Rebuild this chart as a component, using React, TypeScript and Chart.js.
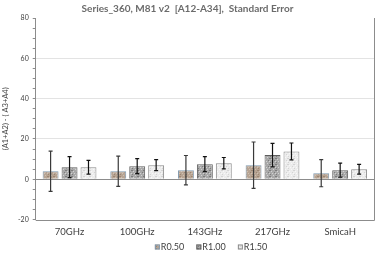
import React, { useEffect, useRef } from "react";
import { Chart, registerables } from "chart.js";

Chart.register(...registerables);

const categories = ["70GHz", "100GHz", "143GHz", "217GHz", "SmicaH"];
const seriesNames = ["R0.50", "R1.00", "R1.50"];
const r050 = [4.0, 4.0, 4.5, 7.0, 3.0];
const r100 = [6.0, 6.5, 7.5, 12.0, 4.5];
const r150 = [6.0, 7.0, 8.0, 13.8, 5.0];
const e050 = [10.0, 7.5, 7.3, 11.5, 6.7];
const e100 = [5.2, 3.7, 3.7, 5.8, 3.5];
const e150 = [3.4, 2.7, 2.8, 4.2, 2.4];
const yTicksMajor = [-20, 0, 20, 40, 60, 80];

const FONT = "Lato, 'Liberation Sans', sans-serif";

function makePattern(base: string, spots: string[]): CanvasPattern | string {
  const c = document.createElement("canvas");
  c.width = 6;
  c.height = 6;
  const ctx = c.getContext("2d");
  if (!ctx) return base;
  ctx.fillStyle = base;
  ctx.fillRect(0, 0, 6, 6);
  const pts = [
    [0, 0], [3, 1], [5, 2], [1, 3], [4, 4], [2, 5], [0, 2], [5, 5],
  ];
  pts.forEach((p, i) => {
    ctx.fillStyle = spots[i % spots.length];
    ctx.fillRect(p[0], p[1], 1, 1);
  });
  const pat = ctx.createPattern(c, "repeat");
  return pat || base;
}

export default function App() {
  const ref = useRef<HTMLCanvasElement>(null);
  useEffect(() => {
    document.body.style.margin = "0";
    if (!ref.current) return;
    const errs = [e050, e100, e150];
    const p1 = makePattern("#b7a493", ["#9c8672", "#cfc0b2"]);
    const p2 = makePattern("#a8a8a8", ["#7c7c7c", "#d2d2d2"]);
    const p3 = makePattern("#ececec", ["#d4d4d4", "#f8f8f8"]);
    const errPlugin = {
      id: "errbars",
      afterDatasetsDraw(chart: any) {
        const ctx = chart.ctx;
        const y = chart.scales.y;
        chart.data.datasets.forEach((ds: any, di: number) => {
          const meta = chart.getDatasetMeta(di);
          meta.data.forEach((bar: any, i: number) => {
            const v = ds.data[i];
            const e = errs[di][i];
            const yt = y.getPixelForValue(v + e);
            const yb = y.getPixelForValue(v - e);
            ctx.save();
            ctx.strokeStyle = di === 0 ? "#3a3a3a" : "#111";
            ctx.lineWidth = 1.2;
            ctx.beginPath();
            ctx.moveTo(bar.x, yt);
            ctx.lineTo(bar.x, yb);
            ctx.moveTo(bar.x - 2, yt);
            ctx.lineTo(bar.x + 2, yt);
            ctx.moveTo(bar.x - 2, yb);
            ctx.lineTo(bar.x + 2, yb);
            ctx.stroke();
            ctx.restore();
          });
        });
        const a = chart.chartArea;
        ctx.save();
        ctx.strokeStyle = "#8c8c8c";
        ctx.lineWidth = 1;
        ctx.beginPath();
        ctx.moveTo(a.left, Math.round(a.bottom) + 0.5);
        ctx.lineTo(Math.round(a.right) + 0.5, Math.round(a.bottom) + 0.5);
        ctx.lineTo(Math.round(a.right) + 0.5, a.top);
        ctx.stroke();
        ctx.restore();
      },
      afterDraw(chart: any) {
        const ctx = chart.ctx;
        const a = chart.chartArea;
        const ly = chart.height - 8;
        let x = (a.left + a.right) / 2 - 50;
        ctx.save();
        ctx.font = "9px " + FONT;
        ctx.textBaseline = "middle";
        ctx.textAlign = "left";
        chart.data.datasets.forEach((ds: any) => {
          ctx.fillStyle = ds.backgroundColor;
          ctx.fillRect(x, ly - 2.5, 5, 5);
          ctx.strokeStyle = ds.borderColor;
          ctx.lineWidth = 1;
          ctx.strokeRect(x + 0.5, ly - 2, 4, 4);
          ctx.fillStyle = "#404040";
          ctx.fillText(ds.label, x + 6, ly);
          x += 41.5;
        });
        ctx.restore();
      },
    };
    const chart = new Chart(ref.current, {
      type: "bar",
      data: {
        labels: categories,
        datasets: [
          { label: seriesNames[0], data: r050, backgroundColor: p1 as any, borderColor: "#7f98ae", borderWidth: 1 },
          { label: seriesNames[1], data: r100, backgroundColor: p2 as any, borderColor: "#5e5e5e", borderWidth: 1 },
          { label: seriesNames[2], data: r150, backgroundColor: p3 as any, borderColor: "#8a8a8a", borderWidth: 1 },
        ],
      },
      options: {
        animation: false,
        responsive: false,
        maintainAspectRatio: false,
        layout: { padding: { left: 1, right: 8, top: 0, bottom: 10 } },
        datasets: { bar: { categoryPercentage: 0.84, barPercentage: 0.84 } },
        plugins: {
          title: {
            display: true,
            text: "Series_360, M81 v2  [A12-A34],  Standard Error",
            color: "#6b6b6b",
            font: { family: FONT, size: 10, weight: "bold" },
            padding: { top: 3, bottom: 3 },
          },
          legend: { display: false },
          tooltip: { enabled: false },
        },
        scales: {
          x: {
            grid: { display: false, drawTicks: false, tickLength: 0 },
            border: { display: false },
            ticks: {
              color: "#404040",
              padding: 7,
              font: { family: FONT, size: 9.5 },
            },
          },
          y: {
            min: -20,
            max: 80,
            title: {
              display: true,
              text: "(A1+A2) - ( A3+A4)",
              color: "#404040",
              font: { family: FONT, size: 7.5 },
              padding: { top: 0, bottom: 4 },
            },
            border: { display: true, color: "#8c8c8c" },
            grid: {
              color: (c: any) => {
                const v = c.tick ? c.tick.value : null;
                if (v === 0) return "#8c8c8c";
                if (v !== null && yTicksMajor.includes(v) && v !== 80 && v !== -20) return "#e3e3e3";
                return "rgba(0,0,0,0)";
              },
              tickColor: "#8c8c8c",
              tickLength: 3,
              drawTicks: true,
            },
            ticks: {
              stepSize: 5,
              autoSkip: false,
              color: "#404040",
              padding: 4,
              font: { family: FONT, size: 7 },
              callback: (v: any) => (yTicksMajor.includes(Number(v)) ? String(v) : ""),
            },
          },
        },
      },
      plugins: [errPlugin],
    });
    return () => chart.destroy();
  }, []);
  return (
    <div style={{ width: 382, height: 255 }}>
      <canvas ref={ref} width={382} height={255} style={{ width: 382, height: 255, display: "block" }} />
    </div>
  );
}
